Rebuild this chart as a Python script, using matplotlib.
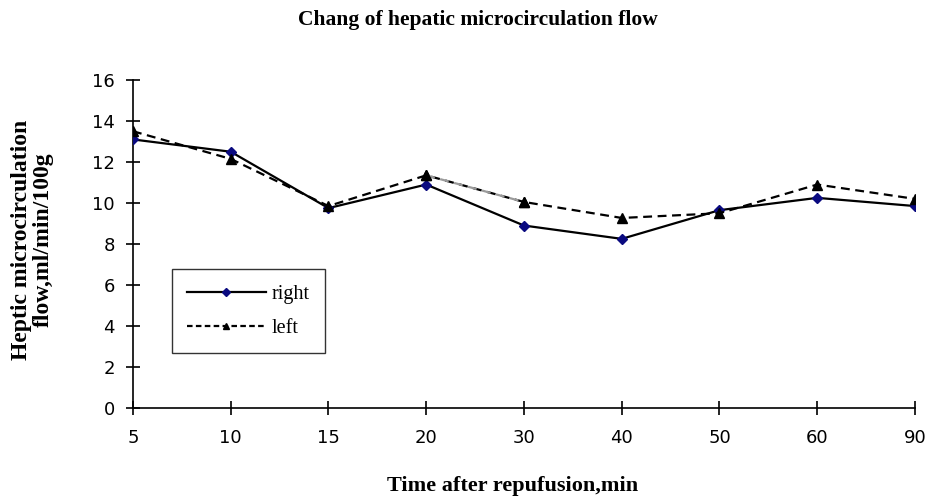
import matplotlib

matplotlib.use("Agg")
import matplotlib.pyplot as plt
from matplotlib.lines import Line2D


TIME_LABELS = ["5", "10", "15", "20", "30", "40", "50", "60", "90"]
RIGHT = [13.1, 12.5, 9.75, 10.9, 8.9, 8.25, 9.65, 10.25, 9.85]
LEFT = [13.5, 12.15, 9.85, 11.35, 10.05, 9.27, 9.5, 10.9, 10.2]
Y_TICKS = [0, 2, 4, 6, 8, 10, 12, 14, 16]

SERIF = "Liberation Serif"
SANS = "DejaVu Sans"


def main():
    fig = plt.figure(figsize=(9.26, 4.99), dpi=100)
    ax = fig.add_axes([0.1436, 0.1824, 0.8445, 0.6573])

    xs = list(range(len(TIME_LABELS)))
    ax.plot(xs, RIGHT, color="black", linewidth=1.6, marker="D", markersize=5,
            markerfacecolor="#0a0a80", markeredgecolor="#0a0a80", zorder=3)

    # the 20->30 segment of the left series is drawn grey in the original
    ax.plot(xs, LEFT, color="black", linewidth=1.6, linestyle=(0, (4, 2.5)),
            marker="^", markersize=6.5, markerfacecolor="black",
            markeredgecolor="black", zorder=4)
    ax.plot(xs[3:5], LEFT[3:5], color="#9a9a9a", linewidth=1.6,
            linestyle=(0, (4, 2.5)), zorder=4)
    ax.plot(xs[3:5], LEFT[3:5], linestyle="none", marker="^", markersize=6.5,
            color="black", zorder=5)

    ax.set_xlim(0, len(TIME_LABELS) - 1)
    ax.set_ylim(0, 16)
    ax.set_xticks(xs)
    ax.set_xticklabels(TIME_LABELS, fontfamily=SANS, fontsize=13)
    ax.set_yticks(Y_TICKS)
    ax.set_yticklabels([str(v) for v in Y_TICKS], fontfamily=SANS, fontsize=13)
    ax.tick_params(direction="inout", length=10, width=1.2, pad=8)
    ax.tick_params(axis="x", pad=10)

    for side in ["top", "right"]:
        ax.spines[side].set_visible(False)
    for side in ["left", "bottom"]:
        ax.spines[side].set_linewidth(1.2)

    handles = [
        Line2D([], [], color="black", linewidth=1.6, marker="D", markersize=4,
               markerfacecolor="#0a0a80", markeredgecolor="#0a0a80"),
        Line2D([], [], color="black", linewidth=1.6, linestyle=(0, (2.5, 1.5)),
               marker="^", markersize=5, markerfacecolor="black"),
    ]
    leg = ax.legend(handles, ["right", "left"], loc="lower left",
                    bbox_to_anchor=(0.05, 0.168), borderaxespad=0,
                    handlelength=3.9, borderpad=0.75, labelspacing=0.75,
                    handletextpad=0.3, fancybox=False, edgecolor="black",
                    prop={"family": SERIF, "size": 14.5})
    leg.get_frame().set_linewidth(1.0)

    fig.text(0.516, 0.96, "Chang of hepatic microcirculation flow",
             ha="center", va="center", fontfamily=SERIF, fontsize=15.5,
             fontweight="bold")
    fig.text(0.553, 0.026, "Time after repufusion,min", ha="center",
             va="center", fontfamily=SERIF, fontsize=16, fontweight="bold")
    fig.text(0.035, 0.52, "Heptic microcirculation\nflow,ml/min/100g",
             ha="center", va="center", rotation=90, fontfamily=SERIF,
             fontsize=17, fontweight="bold", linespacing=1.1)

    fig.savefig("out.png", dpi=100)
    plt.close(fig)


if __name__ == "__main__":
    main()
